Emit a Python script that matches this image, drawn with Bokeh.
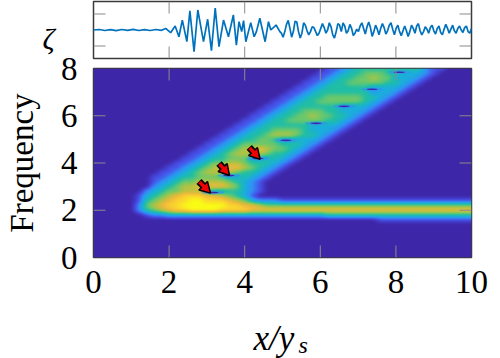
import numpy as np
from bokeh.plotting import figure
from bokeh.layouts import column
from bokeh.core.properties import value
from bokeh.models import FixedTicker, Range1d, LinearColorMapper
from bokeh.embed import file_html
from bokeh.resources import INLINE

# --- spectrogram levels: 0 = background, 9 = yellow
heat_freq = [8.0,7.8,7.6,7.4,7.2,7.0,6.8,6.6,6.4,6.2,6.0,5.8,5.6,5.4,5.2,5.0,4.8,4.6,4.4,4.2,4.0,3.8,3.6,3.4,3.2,3.0,2.8,2.6,2.4,2.2,2.0,1.8,1.6]
heat_start = [31,30,29,28,27,26,25,24,23,22,21,20,19,18,17,16,15,14,13,12,11,10,9,8,8,8,7,6,6,6,6,7,38]
heat_cells = [
 "1123444444444211",
 "1123445554433321",
 "1123445565533321",
 "1123445555544321",
 "1123444444333321",
 "1123444444423321",
 "1123445555544321",
 "1123445555554321",
 "1123444444333321",
 "1123445554433321",
 "1123445565544321",
 "1123445555544321",
 "1123444444333321",
 "1123445555433321",
 "1123445666544321",
 "1123445543333321",
 "1123455555444321",
 "1123456676554321",
 "1123456666544321",
 "1123445553334321",
 "1123455665444321",
 "1123456777654321",
 "1123456666544321",
 "1123445554334321",
 "123455666654321",
 "234566777765321",
 "2345566643344321",
 "1345678887765431",
 "1456788998887653" + "22211111111111111111111111111",
 "25678899999988776" + "5555555555555555555555555555",
 "245678899998888" + "777777777777777777777777777777",
 "12233333333333333333333344444444444444444444",
 "1111111111111",
]
level_colors = ["#3E26A8","#4750E8","#3090F5","#1AAEDB","#20BEA5","#6CC86A","#B8C240","#F0B83C","#FAD52E","#F9FB15"]

# --- dark zero points in the spectrogram
dot_x = [3.16, 3.58, 4.35, 5.09, 5.89, 6.63, 7.37, 8.09]
dot_y = [2.75, 3.47, 4.19, 4.96, 5.68, 6.40, 7.12, 7.84]

# --- zeta time series
zeta_head_x = [0,0.15,0.3,0.45,0.6,0.75,0.9,1.05,1.2,1.35,1.5,1.65,1.8,1.91,2.04,2.16,2.26,2.35,2.47,2.55,2.66,2.76,2.91,3.02,3.12,3.22,3.32,3.44,3.57,3.70,3.78,3.85,3.92,3.97,4.03,4.16,4.25,4.31,4.40,4.54,4.63,4.69,4.83,4.93]
zeta_head_y = [0,0.03,-0.03,0.02,-0.04,0.03,-0.02,0.04,-0.03,0.02,-0.03,0.03,-0.02,0.10,-0.17,0.25,-0.42,0.62,-0.73,1.19,-1.35,1.25,-0.73,0.67,-1.29,1.37,-1.04,0.62,-0.42,0.94,-0.94,0.52,-0.10,0.58,-0.73,0.46,-0.42,-0.10,0.73,-0.73,0.52,0.0,0.31,-0.10]
zeta_tail_y = [-0.2,-0.45,-0.1,0.35,0.6,0.1,-0.45,-0.1,0.55,0.5,-0.1,-0.5,-0.2,0.45,0.3,-0.05,-0.3,-0.1,0.2,0.15,-0.1,-0.35,-0.2,0.1,0.4,0.15,-0.2,0.0,0.45,0.2,-0.3,-0.5,-0.1,0.4,0.3,-0.1,0.45,0.25,-0.2,-0.05,0.35,0.1,-0.35,-0.2,0.05,-0.1,0.25,0.45,0.1,-0.25,0.2,0.5,0.15,-0.4,-0.1,0.3,0.05,-0.3,0.1,0.4,0.15,-0.25,-0.05,0.3,0.45,0.05,-0.3,0.1,0.3,-0.1,-0.35,-0.05,0.25,-0.05,-0.4,-0.1,0.3,0.1,-0.2,0.25,0.4,-0.05,-0.3,-0.1,0.2,0.05,-0.2,0.15,0.3,-0.05,-0.25,0.1,0.25,-0.15,-0.3,0.05,0.35,0.1,-0.2,0.05,0.3,-0.05,-0.2,0.1,0.25,0.0,-0.15,0.15,0.25,-0.1,-0.2,0.1]
zeta_ticks = [-1, 1]
x_ticks = [0, 2, 4, 6, 8, 10]
freq_ticks = [0, 2, 4, 6, 8]

# --- arrows: tail x, tail y, tip x, tip y
arrow_tail_x = [2.79, 3.32, 4.12]
arrow_tail_y = [3.22, 3.98, 4.66]
arrow_tip_x = [3.05, 3.55, 4.36]
arrow_tip_y = [2.80, 3.56, 4.24]

SERIF = "Liberation Serif"
TICK_GREY = "#8a8a8a"
FRAME = "#3a3a3a"

# levels -> smooth field
grid = np.zeros((41, 51))
for f, s, c in zip(heat_freq, heat_start, heat_cells):
    grid[int(round(f / 0.2)), s:s + len(c)] = [int(d) for d in c]
xf = np.linspace(0, 50, 756)
yf = np.linspace(0, 40, 380)
tmp = np.array([np.interp(xf, np.arange(51), r) for r in grid])
field = np.array([np.interp(yf, np.arange(41), tmp[:, j]) for j in range(len(xf))]).T
kx = np.ones(15) / 15
ky = np.ones(9) / 9
field = np.array([np.convolve(np.pad(r, 7, mode="edge"), kx, mode="valid") for r in field])
field = np.array([np.convolve(np.pad(r, 4, mode="edge"), ky, mode="valid") for r in field.T]).T

rgb = np.array([[int(h[i:i + 2], 16) for i in (1, 3, 5)] for h in level_colors])
t = np.linspace(0, 9, 256)
palette = ["#%02X%02X%02X" % tuple(int(round(np.interp(v, np.arange(10), rgb[:, k]))) for k in range(3)) for v in t]


def inner_ticks(fig, xt, yt, xlim, ylim, frame_w, frame_h):
    """Inward ticks, 12px long, on all four sides."""
    dx = (xlim[1] - xlim[0]) * 12 / frame_w
    dy = (ylim[1] - ylim[0]) * 12 / frame_h
    xt = [v for v in xt if xlim[0] < v < xlim[1]]
    yt = [v for v in yt if ylim[0] < v < ylim[1]]
    kw = dict(line_color=TICK_GREY, line_width=1)
    fig.segment(xt, [ylim[0]] * len(xt), xt, [ylim[0] + dy] * len(xt), **kw)
    fig.segment(xt, [ylim[1]] * len(xt), xt, [ylim[1] - dy] * len(xt), **kw)
    fig.segment([xlim[0]] * len(yt), yt, [xlim[0] + dx] * len(yt), yt, **kw)
    fig.segment([xlim[1]] * len(yt), yt, [xlim[1] - dx] * len(yt), yt, **kw)


# top panel
top = figure(width=500, height=60, output_backend="svg", toolbar_location=None,
             x_range=Range1d(0, 10), y_range=Range1d(-1.78, 1.78),
             min_border_left=93, min_border_right=29, min_border_top=1, min_border_bottom=2,
             background_fill_color="white", border_fill_color=None,
             outline_line_color=FRAME, outline_line_width=1.5)
top.grid.visible = False
top.axis.visible = False
zx = np.concatenate([zeta_head_x, np.linspace(4.97, 10, len(zeta_tail_y))])
zy = np.concatenate([zeta_head_y, zeta_tail_y])
inner_ticks(top, x_ticks, zeta_ticks, (0, 10), (-1.78, 1.78), 378, 57)
top.line(zx, zy, line_color="#0072BD", line_width=1.7)

# main panel (its canvas starts 20px higher, so that the tick label 8 is not cut)
p = figure(width=500, height=318, output_backend="svg", toolbar_location=None,
           x_range=Range1d(0, 10), y_range=Range1d(0, 8),
           min_border_left=93, min_border_right=29, min_border_top=28, min_border_bottom=101,
           border_fill_color=None, outline_line_color=FRAME, outline_line_width=1.5)
p.margin = (-20, 0, 0, 0)
p.grid.visible = False
mapper = LinearColorMapper(palette=palette, low=0, high=9)
p.image(image=[field], x=0, y=0, dw=10, dh=8, color_mapper=mapper)
p.ellipse(dot_x, dot_y, width=0.6, height=0.16, fill_color="#3090F5", fill_alpha=0.6, line_color=None)
p.ellipse(dot_x, dot_y, width=0.3, height=0.07, fill_color="#3E26A8", line_color=None)
for ax, ticks in ((p.xaxis[0], x_ticks), (p.yaxis[0], freq_ticks)):
    ax.ticker = FixedTicker(ticks=ticks)
    ax.axis_line_color = None
    ax.major_tick_line_color = None
    ax.minor_tick_line_color = None
    ax.major_label_text_font = SERIF
    ax.major_label_text_font_size = "33px"
    ax.major_label_text_color = "black"
p.xaxis[0].major_label_standoff = 7
p.yaxis[0].major_label_standoff = 10
p.yaxis[0].axis_label = "Frequency"
p.yaxis[0].axis_label_text_font = SERIF
p.yaxis[0].axis_label_text_font_style = "normal"
p.yaxis[0].axis_label_text_font_size = "33px"
p.yaxis[0].axis_label_text_color = "black"
p.yaxis[0].axis_label_standoff = 18
inner_ticks(p, x_ticks, freq_ticks, (0, 10), (0, 8), 378, 189)

# arrows: black outline + red core, drawn from the arrays through the data scales
ax0, ay0, ax1, ay1 = map(np.array, (arrow_tail_x, arrow_tail_y, arrow_tip_x, arrow_tip_y))
shaft_x = ax0 + (ax1 - ax0) * 0.55
shaft_y = ay0 + (ay1 - ay0) * 0.55
head_x = ax0 + (ax1 - ax0) * 0.68
head_y = ay0 + (ay1 - ay0) * 0.68
ang = np.arctan2((ay1 - ay0) * 23.625, (ax1 - ax0) * 37.7) - np.pi / 2
p.segment(ax0, ay0, shaft_x, shaft_y, line_color="black", line_width=7, line_cap="butt")
p.scatter(head_x, head_y, marker="triangle", size=12, angle=ang, fill_color="#F00000",
          line_color="black", line_width=1.5)
p.segment(ax0 + (ax1 - ax0) * 0.06, ay0 + (ay1 - ay0) * 0.06, head_x, head_y,
          line_color="#F00000", line_width=3.5, line_cap="butt")

# transparent page-sized layer (pixel coordinates) for the free-standing axis labels
ov = figure(width=500, height=358, output_backend="svg", toolbar_location=None,
            x_range=Range1d(0, 500), y_range=Range1d(358, 0), min_border=0,
            background_fill_color=None, border_fill_color=None, outline_line_color=None)
ov.axis.visible = False
ov.grid.visible = False
txt = dict(text_font=value(SERIF), text_font_style="italic", text_color="black", text_baseline="alphabetic")
ov.text([48], [38], text=["ζ"], text_font_size="30px", text_align="center", **txt)
ov.text([253], [338], text=["x/y"], text_font_size="35px", **txt)
ov.text([298], [344], text=["s"], text_font_size="24px", **txt)

panels = column(top, p, spacing=0)
layer = column(ov, spacing=0)
layer.margin = (-358, 0, 0, 0)
page = column(panels, layer, spacing=0, styles={"position": "absolute", "left": "0px", "top": "0px"})
open("out.html", "w").write(file_html(page, INLINE))
